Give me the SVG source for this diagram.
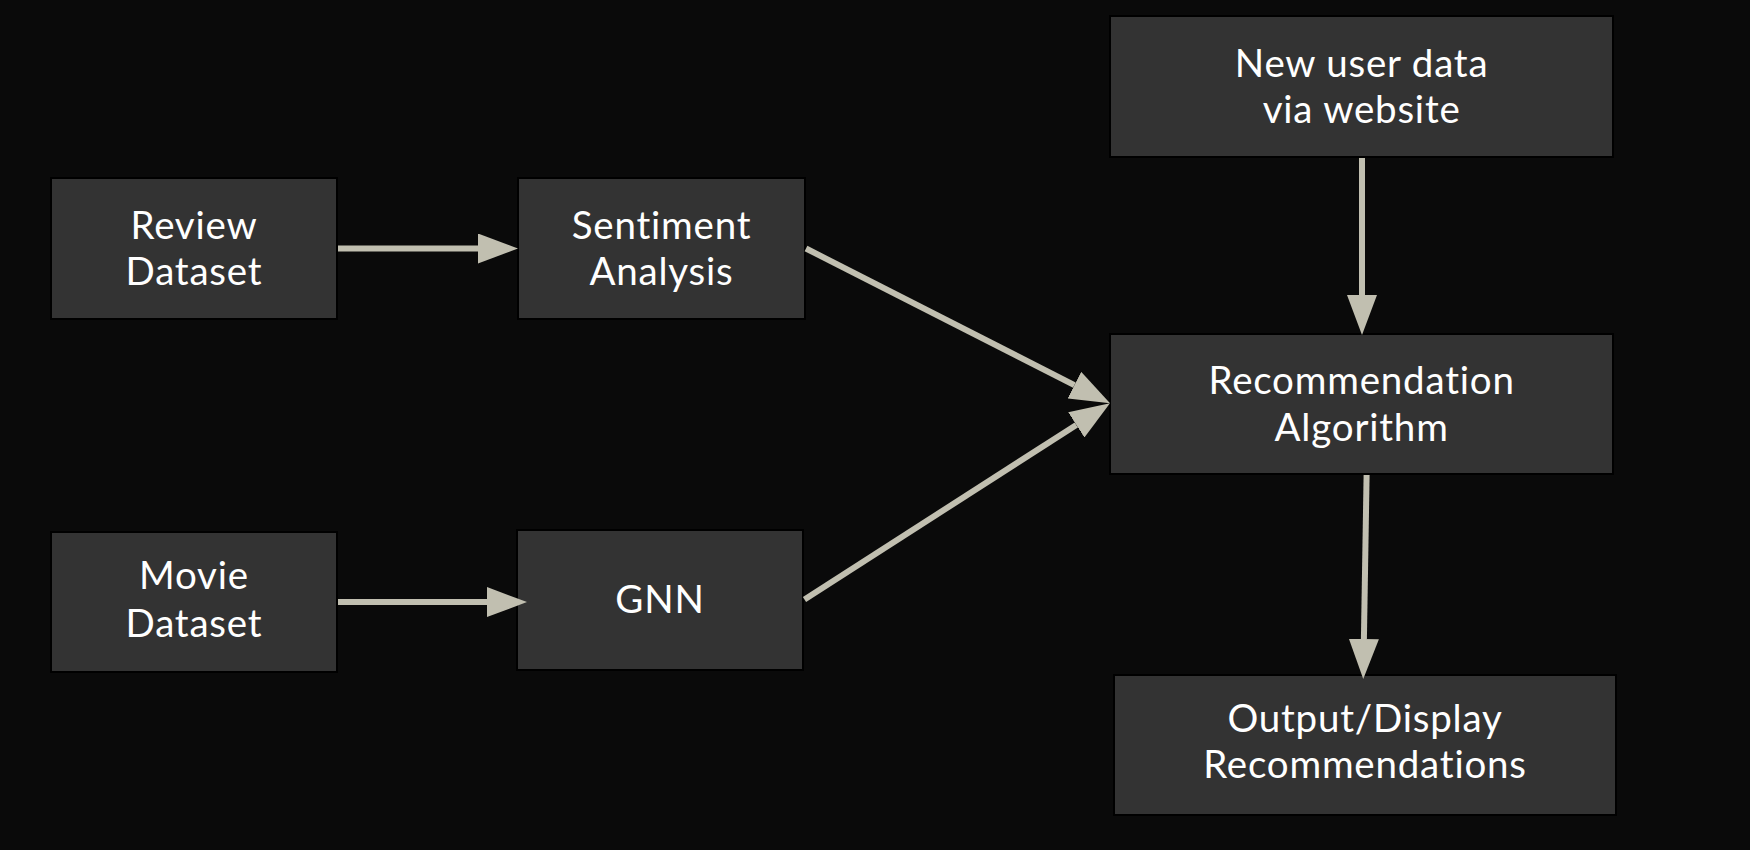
<svg xmlns="http://www.w3.org/2000/svg" width="1750" height="850" viewBox="0 0 1750 850">
<defs>
<style>
.box{fill:#333333;stroke:#000000;stroke-width:2}
.lbl{font-family:Lato,"Noto Sans","Liberation Sans",sans-serif;font-size:38.5px;letter-spacing:0.8px;font-variant-ligatures:none;fill:#ffffff;text-anchor:middle}
.edge{stroke:#c1bfb0;stroke-width:6;fill:none;marker-end:url(#ah)}
</style>
<marker id="ah" markerUnits="userSpaceOnUse" markerWidth="41" markerHeight="30" refX="0" refY="15" orient="auto">
<path d="M0,0 L40,15 L0,30 Z" fill="#c1bfb0"/>
</marker>
</defs>
<rect width="1750" height="850" fill="#0a0a0a"/>
<g id="review-dataset">
<rect class="box" x="51" y="178" width="286" height="141"/>
<text class="lbl" x="194" y="239.3">Review</text>
<text class="lbl" x="194" y="285">Dataset</text>
</g>
<g id="sentiment-analysis">
<rect class="box" x="518" y="178" width="287" height="141"/>
<text class="lbl" x="661.5" y="239.3">Sentiment</text>
<text class="lbl" x="661.5" y="285">Analysis</text>
</g>
<g id="new-user-data">
<rect class="box" x="1110" y="16" width="503" height="141"/>
<text class="lbl" x="1361.6" y="76.7">New user data</text>
<text class="lbl" x="1361.6" y="123.3">via website</text>
</g>
<g id="recommendation-algorithm">
<rect class="box" x="1110" y="334" width="503" height="140"/>
<text class="lbl" x="1361.6" y="394">Recommendation</text>
<text class="lbl" x="1361.6" y="440.7">Algorithm</text>
</g>
<g id="movie-dataset">
<rect class="box" x="51" y="532" width="286" height="140"/>
<text class="lbl" x="194" y="589.3">Movie</text>
<text class="lbl" x="194" y="636.7">Dataset</text>
</g>
<g id="gnn">
<rect class="box" x="517" y="530" width="286" height="140"/>
<text class="lbl" x="660" y="613.3">GNN</text>
</g>
<g id="output-display">
<rect class="box" x="1114" y="675" width="502" height="140"/>
<text class="lbl" x="1365" y="731.7">Output/Display</text>
<text class="lbl" x="1365" y="778.3">Recommendations</text>
</g>
<g id="connectors">
<line class="edge" x1="338" y1="248.5" x2="478" y2="248.5"/>
<line class="edge" x1="338" y1="602" x2="487" y2="602"/>
<line class="edge" x1="1362" y1="158" x2="1362" y2="295"/>
<line class="edge" x1="1366.6" y1="475" x2="1363.9" y2="639"/>
<line class="edge" x1="806" y1="248.5" x2="1074.4" y2="385.2"/>
<line class="edge" x1="804.5" y1="599.5" x2="1076.3" y2="424.9"/>
</g>
</svg>
